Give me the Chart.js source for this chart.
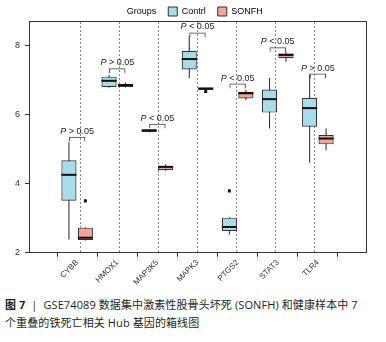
<!DOCTYPE html>
<html>
<head>
<meta charset="utf-8">
<script src="https://cdn.jsdelivr.net/npm/chart.js@4.4.1/dist/chart.umd.min.js"></script>
<style>
  body { margin: 0; background: #fff; }
  #wrap { position: relative; width: 386px; height: 342px; }
  #box { position: absolute; left: 0; top: 0; width: 386px; height: 288px; }
  #legenda {
    position: absolute; left: 5px; top: 296px; white-space: nowrap;
    font-family: "Open Sans", "Noto Sans CJK SC", sans-serif;
    font-size: 11px; line-height: 18px; color: #231f20; letter-spacing: 0.1px;
  }
</style>
</head>
<body>
<div id="wrap">
  <div id="box"><canvas id="grafico"></canvas></div>
  <div id="legenda"><b>图 7</b> &nbsp;|&nbsp; GSE74089 数据集中激素性股骨头坏死 (SONFH) 和健康样本中 7<br>个重叠的铁死亡相关 Hub 基因的箱线图</div>
</div>
<script>
// Genes (eixo x)
var genes = ['CYBB', 'HMOX1', 'MAP3K5', 'MAPK3', 'PTGS2', 'STAT3', 'TLR4'];

// Contrl: min, Q1, mediana, Q3, max, outliers
var ctrlMin = [2.39, 6.78, 5.48, 7.05, 2.53, 5.60, 4.61];
var ctrlQ1  = [3.51, 6.80, 5.50, 7.31, 2.63, 6.06, 5.65];
var ctrlMed = [4.23, 6.95, 5.52, 7.58, 2.72, 6.42, 6.16];
var ctrlQ3  = [4.68, 7.10, 5.54, 7.85, 3.02, 6.73, 6.49];
var ctrlMax = [5.20, 7.15, 5.56, 8.28, 3.03, 7.07, 7.17];
var ctrlOut = [null, null, null, null, 3.75, null, null];

// SONFH
var sonMin = [2.36, 6.79, 4.38, 6.70, 6.42, 7.53, 4.97];
var sonQ1  = [2.37, 6.80, 4.40, 6.71, 6.47, 7.63, 5.14];
var sonMed = [2.41, 6.83, 4.46, 6.73, 6.59, 7.70, 5.28];
var sonQ3  = [2.73, 6.85, 4.52, 6.75, 6.66, 7.77, 5.41];
var sonMax = [2.74, 6.93, 4.56, 6.76, 6.72, 7.82, 5.60];
var sonOut = [3.46, null, null, 6.63, null, null, null];

// Colchetes de significancia
var bracketY = [5.36, 7.34, 5.74, 8.38, 6.90, 7.95, 7.19];
var pLabels = ['P > 0.05', 'P > 0.05', 'P < 0.05', 'P < 0.05', 'P < 0.05', 'P < 0.05', 'P > 0.05'];

var yTicks = [2, 4, 6, 8];

var corCtrl = '#a7dce8';
var corSon = '#f3a59c';
var legLen = 0.14;

function faixa(a, b) {
    return genes.map(function (g, i) { return { x: i + 1, y: [a[i], b[i]] }; });
}
function pontos(arr) {
    return genes.map(function (g, i) { return { x: i + 1, y: [arr[i], arr[i]] }; })
        .filter(function (d) { return d.y[0] !== null; });
}

// Texto "P > 0.05" acima de cada colchete
var textoP = {
    id: 'textoP',
    afterDatasetsDraw: function (chart) {
        var meta = chart.getDatasetMeta(8);
        var ctx = chart.ctx;
        ctx.save();
        ctx.fillStyle = '#222';
        ctx.textBaseline = 'alphabetic';
        meta.data.forEach(function (el, i) {
            var topo = Math.min(el.y, el.base) - 3;
            var resto = pLabels[i].slice(1);
            ctx.font = 'italic 9px "Liberation Sans"';
            var wP = ctx.measureText('P').width;
            ctx.font = '9px "Liberation Sans"';
            var wR = ctx.measureText(resto).width;
            var x0 = el.x - (wP + wR) / 2;
            ctx.font = 'italic 9px "Liberation Sans"';
            ctx.fillText('P', x0, topo);
            ctx.font = '9px "Liberation Sans"';
            ctx.fillText(resto, x0 + wP, topo);
        });
        ctx.restore();
    }
};

var ctx = document.getElementById('grafico');

var myChart = new Chart(ctx, {
    type: 'bar',
    data: {
        datasets: [
            // caixas
            { data: faixa(ctrlQ1, ctrlQ3), stack: 'c', order: 2, barPercentage: 0.92,
              backgroundColor: corCtrl, borderColor: '#333', borderWidth: 1.2, borderSkipped: false },
            { data: faixa(sonQ1, sonQ3), stack: 's', order: 2, barPercentage: 0.92,
              backgroundColor: corSon, borderColor: '#333', borderWidth: 1.2, borderSkipped: false },
            // medianas
            { data: faixa(ctrlMed, ctrlMed), stack: 'c', order: 1, barPercentage: 0.92,
              minBarLength: 2, backgroundColor: '#111', borderWidth: 0 },
            { data: faixa(sonMed, sonMed), stack: 's', order: 1, barPercentage: 0.92,
              minBarLength: 2, backgroundColor: '#111', borderWidth: 0 },
            // bigodes
            { data: faixa(ctrlMin, ctrlMax), stack: 'c', order: 3, barPercentage: 0.065,
              backgroundColor: '#333', borderWidth: 0 },
            { data: faixa(sonMin, sonMax), stack: 's', order: 3, barPercentage: 0.065,
              backgroundColor: '#333', borderWidth: 0 },
            // outliers
            { data: pontos(ctrlOut), stack: 'c', order: 0, barPercentage: 0.18,
              minBarLength: 3.5, borderRadius: 2, backgroundColor: '#111', borderWidth: 0 },
            { data: pontos(sonOut), stack: 's', order: 0, barPercentage: 0.18,
              minBarLength: 3.5, borderRadius: 2, backgroundColor: '#111', borderWidth: 0 },
            // colchetes
            { data: genes.map(function (g, i) { return { x: i + 1, y: [bracketY[i] - legLen, bracketY[i]] }; }),
              grouped: false, order: 0, categoryPercentage: 1, barPercentage: 0.41,
              backgroundColor: 'rgba(0,0,0,0)', borderColor: '#444',
              borderWidth: { top: 1, left: 1, right: 1, bottom: 0 }, borderSkipped: false }
        ]
    },
    plugins: [textoP],
    options: {
        responsive: true,
        maintainAspectRatio: false,
        animation: false,
        datasets: { bar: { categoryPercentage: 0.82 } },
        layout: { padding: { left: 10, right: 20, top: -5, bottom: 0 } },
        scales: {
            x: {
                type: 'linear',
                position: 'bottom',
                min: 0.4,
                max: 7.6,
                afterBuildTicks: function (s) {
                    s.ticks = genes.map(function (g, i) { return { value: i + 1 }; });
                },
                ticks: {
                    autoSkip: false,
                    minRotation: 45,
                    maxRotation: 45,
                    padding: 1,
                    color: '#333',
                    font: { family: 'Liberation Sans', size: 8 },
                    callback: function (v) { return genes[Math.round(v) - 1]; }
                },
                grid: { drawOnChartArea: false, tickLength: 4, color: '#333' },
                border: { color: '#333', width: 1 }
            },
            x2: {
                type: 'linear',
                position: 'top',
                min: 0.4,
                max: 7.6,
                afterBuildTicks: function (s) {
                    s.ticks = genes.slice(1).map(function (g, i) { return { value: i + 1.5 }; });
                },
                ticks: { display: false },
                grid: { color: '#8a8a8a', lineWidth: 1, drawTicks: false },
                border: { display: true, color: '#333', width: 1, dash: [2, 2] }
            },
            y: {
                type: 'linear',
                stacked: false,
                min: 2,
                max: 8.71,
                afterBuildTicks: function (s) {
                    s.ticks = yTicks.map(function (v) { return { value: v }; });
                },
                ticks: { color: '#333', padding: 5, font: { family: 'Liberation Sans', size: 9 } },
                grid: { drawOnChartArea: false, tickLength: 4, color: '#333' },
                border: { color: '#333', width: 1 }
            },
            y2: {
                type: 'linear',
                position: 'right',
                display: true,
                min: 2,
                max: 8.71,
                ticks: { display: false },
                grid: { display: false, drawTicks: false },
                border: { display: true, color: '#333', width: 1 }
            }
        },
        plugins: {
            tooltip: { enabled: false },
            legend: {
                position: 'top',
                maxHeight: 26,
                labels: {
                    boxWidth: 9,
                    boxHeight: 9,
                    padding: 12,
                    color: '#222',
                    font: { family: 'Liberation Sans', size: 9 },
                    generateLabels: function () {
                        return [
                            { text: 'Groups', fillStyle: 'rgba(0,0,0,0)', strokeStyle: 'rgba(0,0,0,0)', lineWidth: 0 },
                            { text: 'Contrl', fillStyle: corCtrl, strokeStyle: '#333', lineWidth: 1 },
                            { text: 'SONFH', fillStyle: corSon, strokeStyle: '#333', lineWidth: 1 }
                        ];
                    }
                }
            }
        }
    }
});
</script>
</body>
</html>
